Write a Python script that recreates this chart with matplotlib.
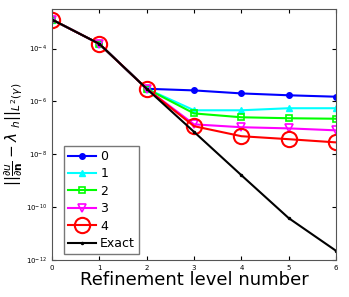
import numpy as np
import matplotlib
matplotlib.use("Agg")
import matplotlib.pyplot as plt

levels = [0, 1, 2, 3, 4, 5, 6]
err0 = [1.25e-3, 1.5e-4, 3.0e-6, 2.6e-6, 2.0e-6, 1.7e-6, 1.5e-6]
err1 = [1.25e-3, 1.5e-4, 3.0e-6, 4.6e-7, 4.6e-7, 5.5e-7, 5.5e-7]
err2 = [1.25e-3, 1.5e-4, 3.0e-6, 3.5e-7, 2.5e-7, 2.3e-7, 2.2e-7]
err3 = [1.25e-3, 1.5e-4, 3.0e-6, 1.35e-7, 1.05e-7, 9.5e-8, 8.0e-8]
err4 = [1.25e-3, 1.5e-4, 3.0e-6, 1.15e-7, 4.8e-8, 3.7e-8, 2.8e-8]
exact = [1.25e-3, 1.5e-4, 3.0e-6, 7.0e-8, 1.6e-9, 3.8e-11, 2.2e-12]

fig = plt.figure(figsize=(3.49, 2.97), dpi=100)
ax = fig.add_axes([0.149, 0.125, 0.814, 0.845])

ax.semilogy(levels, err0, '-o', color='blue', lw=1.5, ms=4, label='0')
ax.semilogy(levels, err1, '-^', color='cyan', lw=1.5, ms=5, label='1')
ax.semilogy(levels, err2, '-s', color='lime', lw=1.5, ms=4, mfc='none', mew=1.2, label='2')
ax.semilogy(levels, err3, '-v', color='magenta', lw=1.5, ms=6, mfc='none', mew=1.2, label='3')
ax.semilogy(levels, err4, '-o', color='red', lw=1.5, ms=11, mfc='none', mew=1.5, label='4')
ax.semilogy(levels, exact, '-', marker='.', color='black', lw=1.5, ms=3, label='Exact')

ax.set_xlim(0, 6)
ax.set_ylim(1e-12, 10**-2.5)
ax.set_yticks([1e-12, 1e-10, 1e-8, 1e-6, 1e-4])
ax.minorticks_off()
ax.tick_params(labelsize=5, direction='in', length=3, top=True, right=True)
for s in ax.spines.values():
    s.set_color('#555555')

ax.set_xlabel('Refinement level number', fontsize=13, labelpad=0)
ax.set_ylabel(r'$||\frac{\partial u}{\partial \mathbf{n}} - \lambda\ _h||_{L^2(\gamma)}$', fontsize=11, labelpad=1)

leg = ax.legend(loc='lower left', fontsize=9, fancybox=False, edgecolor='#555555',
                handlelength=2.3, borderpad=0.3, labelspacing=0.35, handletextpad=0.3,
                bbox_to_anchor=(0.02, 0.0))

fig.savefig('out.png', dpi=100)
